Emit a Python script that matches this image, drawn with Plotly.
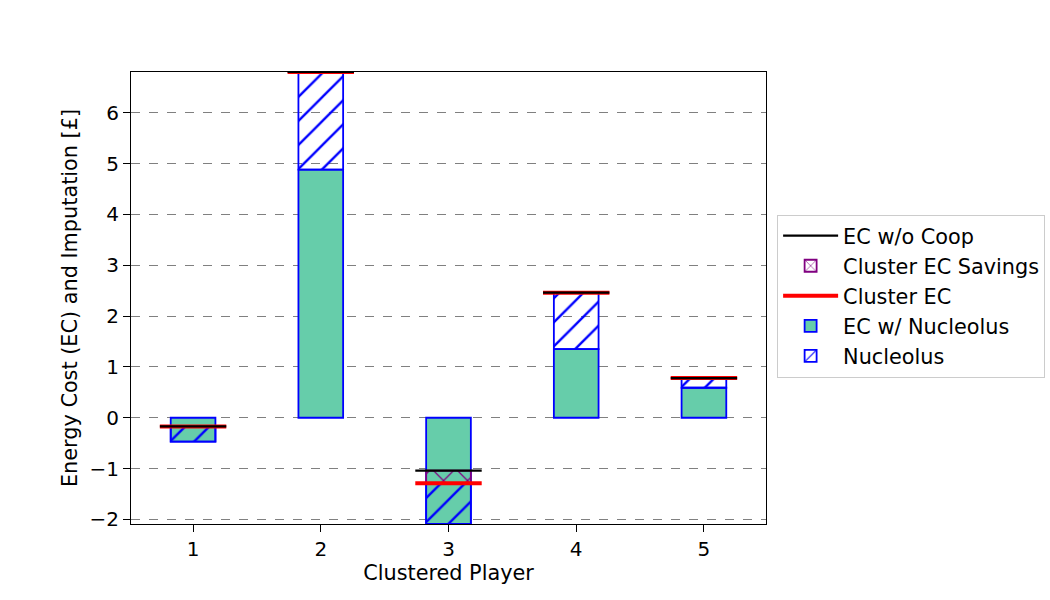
import plotly.graph_objects as go

players = [1, 2, 3, 4, 5]
ec_wo_coop = [-0.17, 6.80, -1.04, 2.46, 0.78]
cluster_ec = [-0.17, 6.80, -1.29, 2.46, 0.78]
ec_w_nucleolus = [-0.47, 4.88, -2.09, 1.35, 0.59]

nucleolus = [c - e for c, e in zip(cluster_ec, ec_w_nucleolus)]
savings = [w - c for w, c in zip(ec_wo_coop, cluster_ec)]

BAR_W = 0.35
LINE_HALF = 0.26
FONT = "DejaVu Sans"
FS_TICK = 20
FS = 20.8


def segments(xs, ys):
    sx, sy = [], []
    for x, y in zip(xs, ys):
        sx += [x - LINE_HALF, x + LINE_HALF, None]
        sy += [y, y, None]
    return sx, sy


fig = go.Figure()

fig.add_trace(go.Bar(
    x=players, y=ec_w_nucleolus, width=BAR_W, name="EC w/ Nucleolus",
    marker=dict(color="#66CDAA", opacity=1, line=dict(color="blue", width=1.8)),
    legendrank=4,
))
fig.add_trace(go.Bar(
    x=players, y=nucleolus, base=ec_w_nucleolus, width=BAR_W, name="Nucleolus",
    marker=dict(color="rgba(0,0,0,0)", opacity=1, line=dict(color="blue", width=1.8),
                pattern=dict(shape="/", fgcolor="blue", bgcolor="rgba(0,0,0,0)",
                             fgopacity=1, size=17, solidity=0.14, fillmode="overlay")),
    legendrank=5,
))
fig.add_trace(go.Bar(
    x=players, y=savings, base=cluster_ec, width=BAR_W, name="Cluster EC Savings",
    marker=dict(color="rgba(0,0,0,0)", opacity=1, line=dict(color="purple", width=1.8),
                pattern=dict(shape="x", fgcolor="purple", bgcolor="rgba(0,0,0,0)",
                             fgopacity=1, size=17, solidity=0.14, fillmode="overlay")),
    legendrank=2,
))

rx, ry = segments(players, cluster_ec)
fig.add_trace(go.Scatter(x=rx, y=ry, mode="lines", name="Cluster EC",
                         line=dict(color="red", width=4), legendrank=3))
bx, by = segments(players, ec_wo_coop)
fig.add_trace(go.Scatter(x=bx, y=by, mode="lines", name="EC w/o Coop",
                         line=dict(color="black", width=2.2), legendrank=1))

ymin = min(ec_w_nucleolus)
ymax = max(ec_wo_coop)

fig.update_layout(
    width=1050, height=600,
    barmode="overlay",
    plot_bgcolor="white", paper_bgcolor="white",
    margin=dict(l=131, r=284, t=72, b=76, autoexpand=False),
    font=dict(family=FONT, size=FS, color="black"),
    showlegend=True,
    legend=dict(x=1.0175, y=0.504, xanchor="left", yanchor="middle",
                bordercolor="#cccccc", borderwidth=1, bgcolor="white",
                font=dict(family=FONT, size=FS), traceorder="normal",
                itemwidth=55, tracegroupgap=0),
    xaxis=dict(
        range=[0.514, 5.486], tickmode="array", tickvals=players,
        ticktext=[str(p) for p in players],
        tickfont=dict(size=FS_TICK),
        showgrid=False, zeroline=False,
        showline=True, linecolor="black", linewidth=1.2, mirror=True,
        ticks="outside", ticklen=7, tickcolor="black",
        title=dict(text="Clustered Player", font=dict(size=FS), standoff=4),
    ),
    yaxis=dict(
        range=[ymin, ymax], tickmode="array", tickvals=list(range(-2, 7)),
        tickfont=dict(size=FS_TICK),
        showgrid=True, gridcolor="gray", griddash="dash", gridwidth=1.2,
        zeroline=False,
        showline=True, linecolor="black", linewidth=1.2, mirror=True,
        ticks="outside", ticklen=7, tickcolor="black",
        title=dict(text="Energy Cost (EC) and Imputation [£]", font=dict(size=FS), standoff=6),
    ),
)

fig.write_html("out.html")
